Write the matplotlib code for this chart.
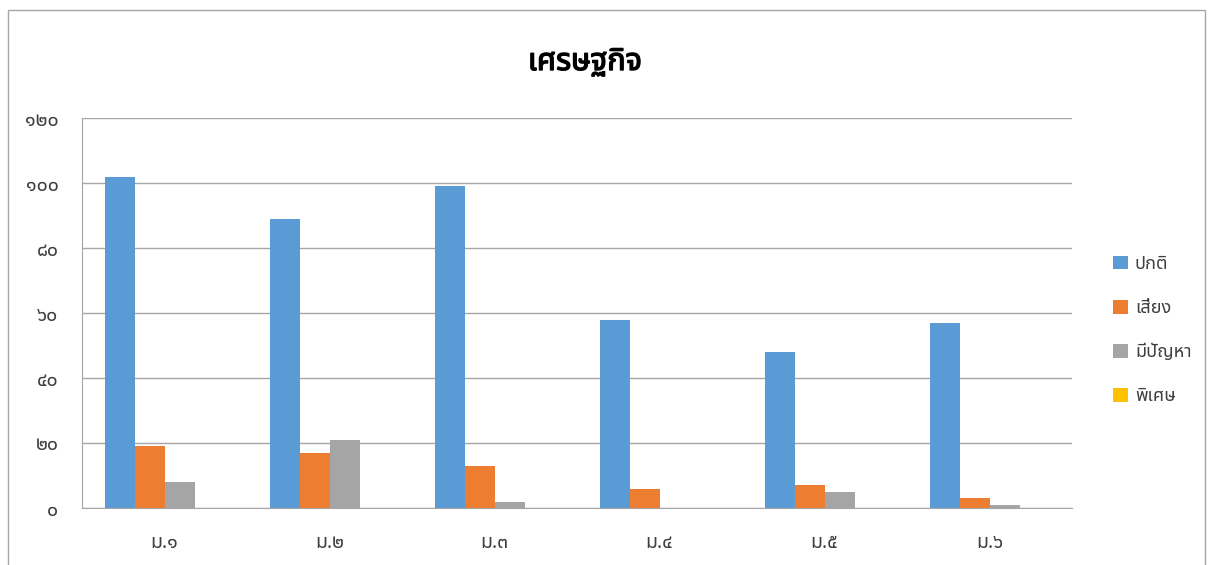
import matplotlib
matplotlib.use('Agg')
import matplotlib.pyplot as plt
import matplotlib.patheffects as pe
import numpy as np
from matplotlib import font_manager as fm
from matplotlib.ft2font import FT2Font
from matplotlib.patches import Rectangle

# data
categories = ['ม.๑', 'ม.๒', 'ม.๓', 'ม.๔', 'ม.๕', 'ม.๖']
series_names = ['ปกติ', 'เสี่ยง', 'มีปัญหา', 'พิเศษ']
normal = [102, 89, 99, 58, 48, 57]
risk = [19, 17, 13, 6, 7, 3]
problem = [8, 21, 2, 0, 5, 1]
special = [0, 0, 0, 0, 0, 0]
yticks = [0, 20, 40, 60, 80, 100, 120]
ytick_labels = ['๐', '๒๐', '๔๐', '๖๐', '๘๐', '๑๐๐', '๑๒๐']
colours = ['#5b9bd5', '#ed7d31', '#a5a5a5', '#ffc000']


def find_thai_font():
    preferred = ['Noto Sans Thai', 'Noto Sans Thai UI', 'Loma', 'Garuda', 'Tahoma',
                 'Leelawadee UI', 'Sarabun', 'Norasi', 'Kinnari', 'Laksaman']
    found = []
    for f in fm.fontManager.ttflist:
        try:
            cmap = FT2Font(f.fname).get_charmap()
            if 0x0E28 in cmap and 0x0E51 in cmap:
                found.append(f.name)
        except Exception:
            pass
    for p in preferred:
        if p in found:
            return p
    return found[0] if found else None


thai = find_thai_font()
families = ([thai] if thai else []) + ['DejaVu Sans']
plt.rcParams['font.family'] = families

fig = plt.figure(figsize=(12.17, 5.65), dpi=100)
ax = fig.add_axes([82/1217, 1 - 508/565, 990/1217, 390/565])

x = np.arange(len(categories))
width = 30 / 165
data = [normal, risk, problem, special]
for i, vals in enumerate(data):
    ax.bar(x + (i - 1.5) * width, vals, width, color=colours[i], label=series_names[i])

ax.set_xlim(-0.5, len(categories) - 0.5)
ax.set_ylim(0, 120)
ax.set_yticks(yticks)
ax.set_yticklabels(ytick_labels)
ax.set_xticks(x)
ax.set_xticklabels(categories)
ax.tick_params(axis='both', length=0, labelsize=14, colors='#404040')
ax.tick_params(axis='y', pad=17)
ax.tick_params(axis='x', pad=18)
ax.yaxis.grid(True, color='#a6a6a6', linewidth=1)
ax.set_axisbelow(True)
for s in ['top', 'right']:
    ax.spines[s].set_visible(False)
ax.spines['left'].set_color('#a6a6a6')
ax.spines['bottom'].set_color('#a6a6a6')

fig.text(585/1217, 1 - 62/565, 'เศรษฐกิจ', ha='center', va='center',
         fontsize=22, fontweight='bold', color='black',
         path_effects=[pe.withStroke(linewidth=1.0, foreground='black')])

fig.legend(loc='center left', bbox_to_anchor=(1097/1217, 1 - 330/565),
           frameon=False, fontsize=13, handlelength=0.8, handleheight=0.8,
           handletextpad=0.4, labelspacing=1.45, labelcolor='#404040')

fig.patches.append(Rectangle((8/1217, -0.05), (1205 - 8)/1217, 1.05 - 10/565,
                             transform=fig.transFigure, fill=False,
                             edgecolor='#a6a6a6', linewidth=1))

plt.savefig('out.png', dpi=100)
